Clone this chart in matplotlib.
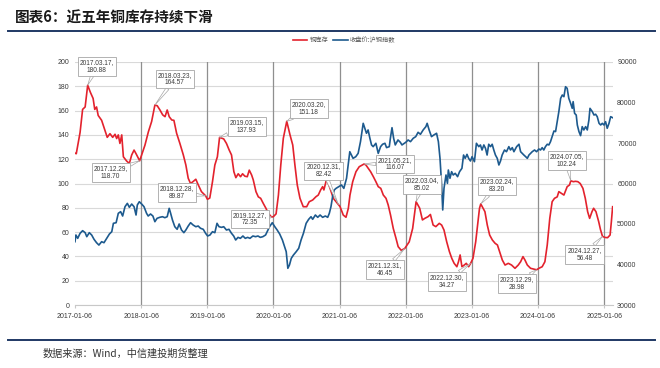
import matplotlib
matplotlib.use("Agg")
import matplotlib.pyplot as plt
import matplotlib.dates as mdates
from matplotlib.lines import Line2D
import pandas as pd

# 铜库存 (left axis)
red_dates = [
    "2017-01-06", "2017-01-13", "2017-02-03", "2017-02-17", "2017-03-03", "2017-03-17", "2017-04-01",
    "2017-04-16", "2017-04-25", "2017-05-05", "2017-05-14", "2017-06-02", "2017-06-20", "2017-07-03",
    "2017-07-18", "2017-08-02", "2017-08-15", "2017-08-24", "2017-09-02", "2017-09-11", "2017-09-21",
    "2017-09-30", "2017-10-18", "2017-11-02", "2017-11-15", "2017-11-28", "2017-12-09", "2017-12-29",
    "2018-01-09", "2018-01-27", "2018-02-15", "2018-03-05", "2018-03-23", "2018-04-05", "2018-04-20",
    "2018-05-05", "2018-05-18", "2018-05-30", "2018-06-10", "2018-06-24", "2018-07-06", "2018-07-21",
    "2018-08-08", "2018-08-27", "2018-09-10", "2018-09-23", "2018-10-06", "2018-10-20", "2018-11-04",
    "2018-11-17", "2018-12-05", "2018-12-28", "2019-01-07", "2019-01-20", "2019-02-04", "2019-02-17",
    "2019-03-03", "2019-03-15", "2019-04-07", "2019-04-22", "2019-05-07", "2019-05-20", "2019-06-02",
    "2019-06-13", "2019-06-26", "2019-07-09", "2019-07-20", "2019-08-02", "2019-08-15", "2019-08-26",
    "2019-09-08", "2019-09-17", "2019-10-02", "2019-10-15", "2019-10-28", "2019-11-11", "2019-11-26",
    "2019-12-09", "2019-12-27", "2020-01-06", "2020-01-21", "2020-02-03", "2020-02-16", "2020-03-01",
    "2020-03-20", "2020-04-07", "2020-04-22", "2020-05-04", "2020-05-17", "2020-06-01", "2020-06-19",
    "2020-07-08", "2020-07-22", "2020-08-10", "2020-08-28", "2020-09-10", "2020-09-23", "2020-10-04",
    "2020-10-11", "2020-10-26", "2020-11-14", "2020-12-02", "2020-12-31", "2021-01-08", "2021-01-26",
    "2021-02-10", "2021-02-23", "2021-03-04", "2021-03-19", "2021-04-06", "2021-04-24", "2021-05-21",
    "2021-05-31", "2021-06-13", "2021-06-26", "2021-07-11", "2021-07-25", "2021-08-07", "2021-08-21",
    "2021-09-04", "2021-09-19", "2021-10-01", "2021-10-14", "2021-10-29", "2021-11-13", "2021-11-25",
    "2021-12-12", "2021-12-31", "2022-01-25", "2022-02-13", "2022-02-25", "2022-03-04", "2022-03-24",
    "2022-04-08", "2022-04-21", "2022-05-09", "2022-05-22", "2022-06-06", "2022-06-21", "2022-07-10",
    "2022-07-23", "2022-08-05", "2022-08-20", "2022-09-04", "2022-09-17", "2022-09-30", "2022-10-15",
    "2022-10-24", "2022-11-02", "2022-11-12", "2022-11-25", "2022-12-06", "2022-12-19", "2022-12-30",
    "2023-01-12", "2023-01-27", "2023-02-09", "2023-02-17", "2023-02-24", "2023-03-19", "2023-04-01",
    "2023-04-14", "2023-04-29", "2023-05-14", "2023-05-27", "2023-06-08", "2023-06-23", "2023-07-08",
    "2023-07-26", "2023-08-13", "2023-09-01", "2023-09-19", "2023-10-02", "2023-10-15", "2023-10-26",
    "2023-11-08", "2023-11-26", "2023-12-29", "2024-01-11", "2024-01-29", "2024-02-13", "2024-02-26",
    "2024-03-11", "2024-03-24", "2024-04-06", "2024-04-21", "2024-04-30", "2024-05-13", "2024-05-28",
    "2024-06-15", "2024-06-28", "2024-07-05", "2024-07-19", "2024-07-31", "2024-08-13", "2024-08-26",
    "2024-09-10", "2024-09-23", "2024-10-06", "2024-10-17", "2024-10-30", "2024-11-08", "2024-11-21",
    "2024-12-06", "2024-12-16", "2024-12-27", "2025-01-10", "2025-01-24", "2025-02-07", "2025-02-14",
    "2025-02-21",
]
red_vals = [
    125, 124.5, 142, 161, 163, 180.88, 175,
    170, 161, 163, 156, 152, 144, 138,
    141, 138, 140.5, 137, 140, 133, 140,
    122, 118.5, 116.5, 123.5, 127.5, 124.5, 118.70,
    123.5, 131.5, 142.5, 151, 164.57, 164, 160.5,
    156.5, 155, 160.5, 155, 152.3, 152, 141.3,
    133, 123.5, 115.2, 104.3, 100, 101.6, 103.5,
    99, 93.3, 89.87, 87, 88, 101.5, 115.2,
    122, 137.93, 136.7, 133, 127.6, 123.5, 109.7,
    104.8, 108, 105.6, 108, 106, 105.6, 111,
    107, 103, 93.3, 89, 87.8, 83.7, 79.6,
    75.5, 72.35, 72.7, 75, 90.5, 115.2, 137.2,
    151.18, 140, 131.7, 115.2, 98.8, 87.8, 80.9,
    80.9, 85, 86.4, 89.1, 90.5, 94.7, 97.4,
    94.7, 103.7, 96, 87.8, 82.42, 81, 74,
    72.2, 79.6, 90.5, 101.5, 109.7, 113.8, 116.07,
    115.2, 112.5, 109.7, 105.6, 101.5, 97.4, 96,
    90.5, 87.8, 82.3, 74, 63, 54.9, 48,
    45, 46.45, 52, 63, 76.8, 85.02, 79.6,
    70, 71.3, 72.7, 74.5, 65.8, 64.5, 67.2,
    65.8, 61.7, 52, 43.9, 38.4, 34.3, 31.5,
    35.6, 41.2, 31.5, 32.9, 34.3, 31.5, 34.27,
    38.4, 52, 68.6, 79.6, 83.20, 76.8, 65.8,
    57.6, 53.5, 50.8, 49.4, 43.9, 37, 32.9,
    34.3, 32.9, 30.2, 32.9, 35.6, 39.8, 37,
    32.9, 30.2, 28.98, 30.2, 31.5, 35.6, 49.4,
    71.3, 85, 87.8, 89, 93.3, 92, 90.5,
    97.4, 98.8, 102.24, 101.5, 101.8, 101.5, 100,
    96, 87.8, 76.8, 71.3, 76.8, 79.6, 76.8,
    68.6, 62, 56.48, 55.6, 55.4, 57.6, 68.6,
    80.9,
]

# 收盘价:沪铜指数 (right axis)
blue_dates = [
    "2017-01-06", "2017-01-11", "2017-01-21", "2017-02-03", "2017-02-17", "2017-03-03", "2017-03-12",
    "2017-03-26", "2017-04-08", "2017-04-21", "2017-05-05", "2017-05-18", "2017-06-02", "2017-06-15",
    "2017-06-30", "2017-07-15", "2017-07-28", "2017-08-06", "2017-08-21", "2017-09-02", "2017-09-15",
    "2017-09-26", "2017-10-09", "2017-10-22", "2017-11-02", "2017-11-15", "2017-11-28", "2017-12-09",
    "2017-12-16", "2017-12-27", "2018-01-09", "2018-01-22", "2018-02-05", "2018-02-14", "2018-02-27",
    "2018-03-12", "2018-03-23", "2018-04-04", "2018-04-19", "2018-05-04", "2018-05-17", "2018-05-30",
    "2018-06-10", "2018-06-17", "2018-06-28", "2018-07-11", "2018-07-24", "2018-08-04", "2018-08-17",
    "2018-08-30", "2018-09-10", "2018-09-23", "2018-10-06", "2018-10-20", "2018-11-04", "2018-11-17",
    "2018-11-30", "2018-12-15", "2018-12-28", "2019-01-08", "2019-01-21", "2019-02-04", "2019-02-17",
    "2019-03-01", "2019-03-12", "2019-03-26", "2019-04-07", "2019-04-22", "2019-05-06", "2019-05-20",
    "2019-06-01", "2019-06-12", "2019-06-25", "2019-07-08", "2019-07-22", "2019-08-04", "2019-08-17",
    "2019-08-30", "2019-09-15", "2019-09-30", "2019-10-13", "2019-10-26", "2019-11-09", "2019-11-24",
    "2019-12-07", "2019-12-16", "2019-12-31", "2020-01-14", "2020-01-27", "2020-02-10", "2020-02-25",
    "2020-03-08", "2020-03-17", "2020-03-26", "2020-04-04", "2020-04-14", "2020-04-26", "2020-05-11",
    "2020-05-25", "2020-06-07", "2020-06-20", "2020-07-05", "2020-07-19", "2020-08-01", "2020-08-10",
    "2020-08-25", "2020-09-07", "2020-09-20", "2020-10-04", "2020-10-19", "2020-11-01", "2020-11-10",
    "2020-11-19", "2020-11-28", "2020-12-07", "2020-12-17", "2021-01-16", "2021-01-29", "2021-02-13",
    "2021-02-22", "2021-03-03", "2021-03-12", "2021-03-21", "2021-04-05", "2021-04-18", "2021-05-01",
    "2021-05-16", "2021-05-25", "2021-06-03", "2021-06-12", "2021-06-22", "2021-07-01", "2021-07-10",
    "2021-07-25", "2021-08-07", "2021-08-20", "2021-08-31", "2021-09-13", "2021-09-22", "2021-10-07",
    "2021-10-13", "2021-10-22", "2021-10-31", "2021-11-09", "2021-11-24", "2021-12-07", "2021-12-16",
    "2022-01-06", "2022-01-19", "2022-02-01", "2022-02-16", "2022-03-02", "2022-03-15", "2022-03-28",
    "2022-04-12", "2022-04-27", "2022-05-04", "2022-05-15", "2022-05-28", "2022-06-10", "2022-06-25",
    "2022-07-05", "2022-07-14", "2022-07-23", "2022-07-29", "2022-08-05", "2022-08-16", "2022-08-24",
    "2022-08-29", "2022-09-07", "2022-09-16", "2022-09-25", "2022-10-06", "2022-10-19", "2022-10-30",
    "2022-11-12", "2022-11-21", "2022-11-30", "2022-12-10", "2022-12-19", "2022-12-29", "2023-01-07",
    "2023-01-20", "2023-01-31", "2023-02-13", "2023-02-22", "2023-03-03", "2023-03-13", "2023-03-22",
    "2023-03-31", "2023-04-09", "2023-04-19", "2023-04-28", "2023-05-07", "2023-05-16", "2023-05-26",
    "2023-06-04", "2023-06-13", "2023-06-22", "2023-07-05", "2023-07-16", "2023-07-29", "2023-08-07",
    "2023-08-17", "2023-08-26", "2023-09-10", "2023-09-23", "2023-10-02", "2023-10-11", "2023-10-20",
    "2023-10-30", "2023-11-08", "2023-11-17", "2023-11-26", "2023-12-05", "2023-12-18", "2023-12-29",
    "2024-01-11", "2024-01-20", "2024-01-29", "2024-02-07", "2024-02-16", "2024-02-26", "2024-03-06",
    "2024-03-15", "2024-03-24", "2024-04-03", "2024-04-12", "2024-04-21", "2024-04-30", "2024-05-10",
    "2024-05-19", "2024-05-28", "2024-06-06", "2024-06-15", "2024-06-24", "2024-07-04", "2024-07-13",
    "2024-07-18", "2024-07-26", "2024-08-04", "2024-08-10", "2024-08-19", "2024-08-28", "2024-09-06",
    "2024-09-15", "2024-09-25", "2024-10-04", "2024-10-13", "2024-10-19", "2024-11-01", "2024-11-10",
    "2024-11-19", "2024-11-28", "2024-12-08", "2024-12-17", "2024-12-26", "2025-01-04", "2025-01-13",
    "2025-01-22", "2025-02-01", "2025-02-10", "2025-02-21",
]
blue_vals = [
    45630, 47280, 46460, 47700, 48350, 47860, 46870,
    47860, 47280, 46220, 45380, 44800, 45630, 45380,
    46460, 47530, 48100, 50170, 50320, 52640, 53040,
    51970, 54270, 55100, 54120, 54930, 54270, 52220,
    54690, 55500, 54930, 54270, 52640, 51970, 52470,
    51970, 50570, 51400, 51650, 51800, 51560, 51800,
    53870, 52800, 50990, 49330, 48690, 50000, 48520,
    47860, 48520, 49500, 50320, 49750, 49330, 49500,
    48940, 48690, 47700, 47040, 47280, 48100, 47860,
    50170, 49330, 49170, 49330, 48520, 48690, 47700,
    47040, 46050, 46700, 46460, 47040, 46460, 46700,
    46460, 47040, 46870, 47040, 46700, 46870, 47280,
    48520, 49330, 50320, 49330, 48520, 47530, 46050,
    44400, 43160, 39060, 39890, 41530, 42350, 43160,
    44000, 46050, 47700, 50170, 51160, 51800, 51160,
    52220, 51650, 52220, 51650, 51970, 51650, 52640,
    54270, 56740, 58390, 58800, 59630, 58800, 61280,
    64570, 67850, 67030, 66210, 66620, 67440, 70330,
    74860, 73630, 72400, 73220, 71160, 69520, 69100,
    69930, 67440, 69100, 69690, 69930, 68860, 69100,
    71160, 73780, 71160, 69520, 70750, 70170, 69520,
    70170, 70750, 70330, 71160, 71570, 72640, 72150,
    73220, 74040, 74860, 73220, 71570, 71980, 72400,
    70330, 66210, 59630, 53460, 58800, 62100, 60040,
    63330, 61280, 62920, 62100, 62510, 61690, 62920,
    63750, 67030, 66210, 67200, 66210, 65560, 66620,
    65390, 69930, 69100, 69520, 68270, 69520, 68700,
    67030, 69690, 69100, 69690, 68270, 67030, 66210,
    64570, 65560, 67030, 68270, 67850, 69100, 68270,
    68850, 67850, 69100, 69690, 67850, 67440, 67030,
    66620, 66210, 67030, 67440, 67850, 68270, 67850,
    68520, 68270, 68850, 68270, 69100, 69690, 69520,
    70330, 71570, 72960, 72820, 75260, 77730, 81030,
    81850, 81440, 83900, 83490, 81030, 79800, 78560,
    80210, 77330, 76900, 74450, 72820, 71820, 74040,
    73220, 74040, 73220, 75680, 78560, 77730, 76910,
    77100, 76500, 74860, 74450, 74860, 74450, 75260,
    73630, 74860, 76500, 76250,
]

year_ticks = ["2017-01-06", "2018-01-06", "2019-01-06", "2020-01-06", "2021-01-06",
              "2022-01-06", "2023-01-06", "2024-01-06", "2025-01-06"]

# annotated points of the inventory series
ann_dates = ["2017-03-17", "2018-03-23", "2017-12-29", "2018-12-28", "2019-03-15", "2019-12-27",
             "2020-03-20", "2020-12-31", "2021-05-21", "2022-03-04", "2021-12-31", "2023-02-24",
             "2022-12-30", "2023-12-29", "2024-07-05", "2024-12-27"]
ann_vals = [180.88, 164.57, 118.70, 89.87, 137.93, 72.35, 151.18, 82.42, 116.07, 85.02, 46.45,
            83.20, 34.27, 28.98, 102.24, 56.48]
# box offsets from the point, pixels
ann_offsets = [(9, 19), (20, 26), (-29, -12), (-29, 3), (27, 11), (-22, -2), (22, 13), (-15, 34),
               (31, 0), (6, 17), (-20, -21), (16, 18), (-24, -18), (-20, -14), (-4, 20), (-18, -18)]

RED = "#e3222d"
BLUE = "#1d5a8e"
TXT = "#3a3a3a"
CJK = ["Noto Sans CJK SC", "DejaVu Sans"]
plt.rcParams["font.family"] = ["Liberation Sans", "DejaVu Sans"]

W, H = 660, 368
fig = plt.figure(figsize=(W / 100, H / 100), dpi=100)
ax = fig.add_axes([75 / W, 1 - 305 / H, (613 - 75) / W, (305 - 62) / H])
ax2 = ax.twinx()

red_x = pd.to_datetime(red_dates)
blue_x = pd.to_datetime(blue_dates)
tick_x = pd.to_datetime(year_ticks)

l1, = ax.plot(red_x, red_vals, color=RED, lw=1.2, zorder=3)
l2, = ax2.plot(blue_x, blue_vals, color=BLUE, lw=1.2, zorder=2)

ax.set_xlim(pd.Timestamp("2017-01-06"), pd.Timestamp("2025-02-23"))
ax.set_ylim(0, 200)
ax2.set_ylim(30000, 90000)
ax.set_yticks(range(0, 201, 20))
ax2.set_yticks(range(30000, 90001, 10000))
ax.set_xticks(tick_x)
ax.set_xticklabels(year_ticks)

ax.yaxis.grid(True, color="#d9d9d9", lw=0.8)
ax.set_axisbelow(True)
for d in tick_x[1:]:
    ax.axvline(d, color="#8f8f8f", lw=0.9, zorder=1)

for a in (ax, ax2):
    for s in a.spines.values():
        s.set_visible(False)
ax.spines["bottom"].set_visible(True)
ax.spines["bottom"].set_color("#c8c8c8")
ax.spines["bottom"].set_linewidth(0.8)

ax.tick_params(axis="y", length=0, pad=4, labelsize=5, labelcolor=TXT)
ax2.tick_params(axis="y", length=0, pad=3, labelsize=5, labelcolor=TXT)
ax.tick_params(axis="x", length=2.5, color="#c8c8c8", pad=3, labelsize=5, labelcolor=TXT)

for d, v, (dx, dy) in zip(ann_dates, ann_vals, ann_offsets):
    label = d.replace("-", ".") + ",\n" + f"{v:.2f}"
    ax2.annotate(label, xy=(mdates.date2num(pd.Timestamp(d)), v), xycoords=ax.transData,
                 xytext=(dx, dy), textcoords="offset pixels", ha="center", va="center",
                 fontsize=4.7, color=TXT, linespacing=1.15, zorder=5,
                 bbox=dict(boxstyle="square,pad=0.3", fc="white", ec="#a6a6a6", lw=0.6),
                 arrowprops=dict(arrowstyle="wedge,tail_width=0.5,shrink_factor=0.5",
                                 fc="white", ec="#a6a6a6", lw=0.5, shrinkA=0, shrinkB=0))

fig.legend([l1, l2], ["铜库存", "收盘价:沪铜指数"], loc="center", bbox_to_anchor=(344 / W, 1 - 40 / H),
           ncol=2, frameon=False, prop={"family": CJK, "size": 4.5}, handlelength=2.3,
           handletextpad=0.4, columnspacing=0.8, labelcolor="#555555")

fig.text(15 / W, 1 - 18 / H, "图表6：近五年铜库存持续下滑", fontsize=10.5, fontweight="bold",
         family=CJK, va="center", color="#1a1a1a")
fig.add_artist(Line2D([8 / W, 655 / W], [1 - 31 / H] * 2, color="#1f3864", lw=1.4))
fig.add_artist(Line2D([8 / W, 655 / W], [1 - 340 / H] * 2, color="#1f3864", lw=1.4))
fig.text(43 / W, 1 - 354 / H, "数据来源：Wind，中信建投期货整理", fontsize=7.3, style="italic",
         family=CJK, va="center", color="#333333")

fig.savefig("out.png", dpi=100)
